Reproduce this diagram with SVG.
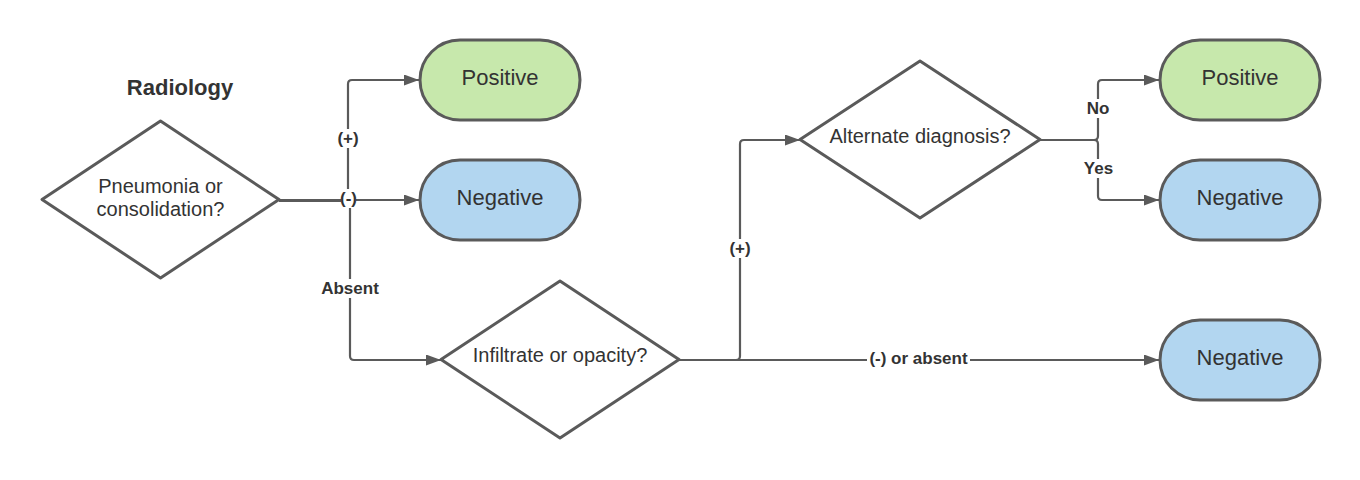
<svg xmlns="http://www.w3.org/2000/svg" width="1360" height="480" viewBox="0 0 1360 480">
<style>
.bg{fill:#ffffff}
.dia{fill:#ffffff;stroke:#5a5a5a;stroke-width:3;stroke-linejoin:round}
.pos{fill:#c7e8ac;stroke:#5a5a5a;stroke-width:3}
.neg{fill:#b2d6f0;stroke:#5a5a5a;stroke-width:3}
.con{fill:none;stroke:#5a5a5a;stroke-width:2.2}
.t{font-family:"Liberation Sans",Arial,sans-serif;fill:#333333;text-anchor:middle}
.box{font-size:22px}
.dt{font-size:20px}
.lbl{font-family:"Liberation Sans",Arial,sans-serif;font-weight:bold;font-size:17px;fill:#333333;text-anchor:middle}
.lb{fill:#ffffff}
</style>
<defs>
<marker id="arr" markerUnits="userSpaceOnUse" markerWidth="15" markerHeight="11" refX="15" refY="5.5" orient="auto">
<path d="M0,0 L15,5.5 L0,11 Z" fill="#5a5a5a"/>
</marker>
</defs>
<rect class="bg" x="0" y="0" width="1360" height="480"/>

<text class="t" x="180" y="95" style="font-size:22px;font-weight:bold">Radiology</text>

<g id="connectors">
<path class="con" d="M279,200 H344 Q348,200 348,196 V84 Q348,80 352,80 H419" marker-end="url(#arr)"/>
<path class="con" d="M279,200 H419" marker-end="url(#arr)"/>
<path class="con" d="M279,201 H346 Q350,201 350,205 V356 Q350,360 354,360 H441" marker-end="url(#arr)"/>
<path class="con" d="M679,360 H736 Q740,360 740,356 V144 Q740,140 744,140 H800" marker-end="url(#arr)"/>
<path class="con" d="M679,360 H1159" marker-end="url(#arr)"/>
<path class="con" d="M1040,140 H1094 Q1098,140 1098,136 V84 Q1098,80 1102,80 H1159" marker-end="url(#arr)"/>
<path class="con" d="M1040,140 H1094 Q1098,140 1098,144 V196 Q1098,200 1102,200 H1159" marker-end="url(#arr)"/>
<rect class="lb" x="337" y="129" width="22" height="19"/>
<text class="lbl" x="348" y="144">(+)</text>
<rect class="lb" x="341" y="189" width="15" height="19"/>
<text class="lbl" x="348.5" y="204">(-)</text>
<rect class="lb" x="319" y="279" width="62" height="19"/>
<text class="lbl" x="350" y="294">Absent</text>
<rect class="lb" x="729" y="239" width="22" height="19"/>
<text class="lbl" x="740" y="254">(+)</text>
<rect class="lb" x="867" y="349" width="103" height="19"/>
<text class="lbl" x="918.5" y="364">(-) or absent</text>
<rect class="lb" x="1086" y="99" width="24" height="19"/>
<text class="lbl" x="1098" y="114">No</text>
<rect class="lb" x="1083" y="159" width="31" height="19"/>
<text class="lbl" x="1098.5" y="174">Yes</text>
</g>

<g id="q1">
<path class="dia" d="M160.5,121 L279,199.5 L160.5,278 L42,199.5 Z"/>
<text class="t dt" x="160.5" y="193">Pneumonia or</text>
<text class="t dt" x="160.5" y="216">consolidation?</text>
</g>
<g id="pos1">
<rect class="pos" x="420" y="40" width="160" height="80" rx="40" ry="40"/>
<text class="t box" x="500" y="85">Positive</text>
</g>
<g id="neg1">
<rect class="neg" x="420" y="160" width="160" height="80" rx="40" ry="40"/>
<text class="t box" x="500" y="205">Negative</text>
</g>
<g id="q2">
<path class="dia" d="M560,281 L679,359.5 L560,438 L441,359.5 Z"/>
<text class="t dt" x="560" y="362">Infiltrate or opacity?</text>
</g>
<g id="q3">
<path class="dia" d="M920,61 L1040,139.5 L920,218 L800,139.5 Z"/>
<text class="t dt" x="920" y="143">Alternate diagnosis?</text>
</g>
<g id="pos2">
<rect class="pos" x="1160" y="40" width="160" height="80" rx="40" ry="40"/>
<text class="t box" x="1240" y="85">Positive</text>
</g>
<g id="neg2">
<rect class="neg" x="1160" y="160" width="160" height="80" rx="40" ry="40"/>
<text class="t box" x="1240" y="205">Negative</text>
</g>
<g id="neg3">
<rect class="neg" x="1160" y="320" width="160" height="80" rx="40" ry="40"/>
<text class="t box" x="1240" y="365">Negative</text>
</g>
</svg>
